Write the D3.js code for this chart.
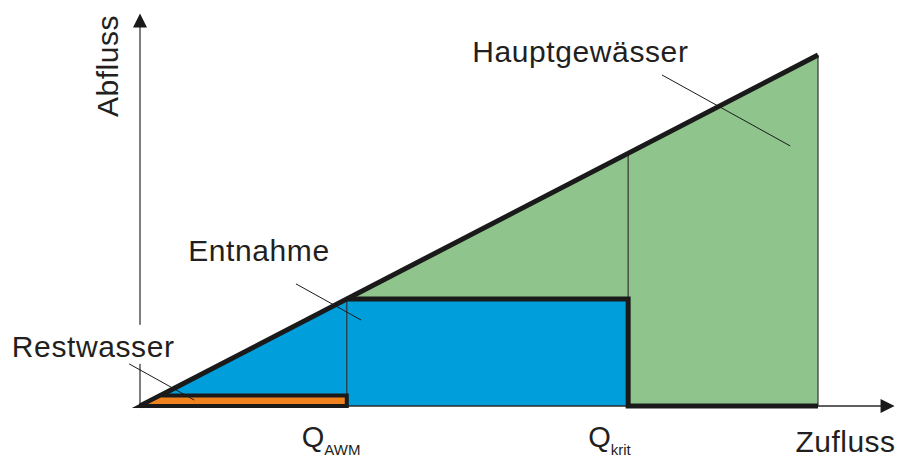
<!DOCTYPE html>
<html>
<head>
<meta charset="utf-8">
<script src="https://cdn.jsdelivr.net/npm/d3@7"></script>
<style>
  body { margin: 0; background: #fff; }
  text { font-family: "Liberation Sans", Arial, sans-serif; fill: #231f20; }
</style>
</head>
<body>
<div id="vis"></div>
<script>
// flow values (Zufluss / Abfluss, arbitrary units)
var qAWM = 30.5;
var qKrit = 72;
var qMax = 100;
var restwasser = 3;
var entnahmeMax = 30.5;
var axisMax = 111;

var qNames = ["Q", "Q"];
var qSubs = ["AWM", "krit"];
var qValues = [qAWM, qKrit];

var labelNames = ["Hauptgewässer", "Entnahme", "Restwasser"];
var labelPos = [[49.0, 98.0], [7.1, 41.3], [-18.9, 14.0]];
var leaderFrom = [[77.0, 94.3], [23.0, 34.8], [-1.6, 12.0]];
var leaderTo = [[95.9, 74.1], [32.6, 24.5], [8.0, 1.7]];

var elem_width = 897;
var elem_height = 457;
var svg = d3.select("#vis")
  .append("svg")
  .attr("width", elem_width)
  .attr("height", elem_height);

var x = d3.scaleLinear().domain([0, 100]).range([140, 818]);
var y = d3.scaleLinear().domain([0, 100]).range([406, 55]);

var line = d3.line()
  .x(function(d) { return x(d[0]); })
  .y(function(d) { return y(d[1]); });

// areas
var hauptArea = [[qAWM, qAWM], [qMax, qMax], [qMax, 0], [qKrit, 0], [qKrit, entnahmeMax], [qAWM, entnahmeMax]];
var entnahmeArea = [[0, 0], [qAWM, qAWM], [qAWM, entnahmeMax], [qKrit, entnahmeMax], [qKrit, 0]];
var restArea = [[0, 0], [restwasser, restwasser], [qAWM, restwasser], [qAWM, 0]];

svg.append("path")
  .attr("d", line(hauptArea) + "Z")
  .attr("fill", "#8fc58c");

svg.append("path")
  .attr("d", line(entnahmeArea) + "Z")
  .attr("fill", "#009edb");

// axes
svg.append("path")
  .attr("d", line([[0, 0], [0, axisMax]]))
  .attr("stroke", "#3a3a3a")
  .attr("stroke-width", 1.3)
  .attr("fill", "none");
svg.append("path")
  .attr("d", line([[0, 0], [axisMax, 0]]))
  .attr("stroke", "#2a2a2a")
  .attr("stroke-width", 1.3)
  .attr("fill", "none");

// arrow heads
var yTip = y(axisMax), xTip = x(axisMax);
svg.append("path")
  .attr("d", "M" + x(0) + "," + (yTip - 3) + "L" + (x(0) - 7) + "," + (yTip + 11) + "L" + (x(0) + 7) + "," + (yTip + 11) + "Z")
  .attr("fill", "#1a1a1a");
svg.append("path")
  .attr("d", "M" + (xTip + 2) + "," + y(0) + "L" + (xTip - 12) + "," + (y(0) - 7) + "L" + (xTip - 12) + "," + (y(0) + 7) + "Z")
  .attr("fill", "#1a1a1a");

// thin verticals
var thin = [
  [[qAWM, entnahmeMax], [qAWM, 0]],
  [[qKrit, qKrit], [qKrit, entnahmeMax]],
  [[qMax, qMax], [qMax, 0]]
];
svg.selectAll(".thin")
  .data(thin).enter()
  .append("path")
  .attr("class", "thin")
  .attr("d", function(d) { return line(d); })
  .attr("stroke", "#333")
  .attr("stroke-width", 1.2)
  .attr("fill", "none");

// thick lines
svg.append("path")
  .attr("d", line([[0, 0], [qMax, qMax]]))
  .attr("stroke", "#1a1a1a")
  .attr("stroke-width", 5)
  .attr("fill", "none");
svg.append("path")
  .attr("d", line([[qAWM, entnahmeMax], [qKrit, entnahmeMax], [qKrit, 0], [qMax, 0]]))
  .attr("stroke", "#1a1a1a")
  .attr("stroke-width", 5)
  .attr("stroke-linejoin", "miter")
  .attr("fill", "none");

// Restwasser strip
svg.append("path")
  .attr("d", line(restArea) + "Z")
  .attr("fill", "#f0821e")
  .attr("stroke", "#1a1a1a")
  .attr("stroke-width", 4)
  .attr("stroke-miterlimit", 10);

// white patch behind Restwasser label
svg.append("rect")
  .attr("x", x(labelPos[2][0]) - 2)
  .attr("y", y(labelPos[2][1]) - 32)
  .attr("width", 170)
  .attr("height", 39)
  .attr("fill", "#fff");

// leaders
svg.selectAll(".leader")
  .data(leaderFrom).enter()
  .append("path")
  .attr("class", "leader")
  .attr("d", function(d, i) { return line([d, leaderTo[i]]); })
  .attr("stroke", "#1a1a1a")
  .attr("stroke-width", 1)
  .attr("fill", "none");

svg.selectAll(".lbl")
  .data(labelNames).enter()
  .append("text")
  .attr("class", "lbl")
  .attr("x", function(d, i) { return x(labelPos[i][0]); })
  .attr("y", function(d, i) { return y(labelPos[i][1]); })
  .attr("font-size", 30)
  .attr("letter-spacing", 0.6)
  .text(function(d) { return d; });

// axis titles
svg.append("text")
  .attr("transform", "translate(118," + (y(0) - 289) + ") rotate(-90)")
  .attr("font-size", 30)
  .attr("letter-spacing", 0.5)
  .text("Abfluss");
svg.append("text")
  .attr("x", xTip + 3)
  .attr("y", 452)
  .attr("text-anchor", "end")
  .attr("font-size", 30)
  .attr("letter-spacing", 0.5)
  .text("Zufluss");

// Q markers
var qOffsets = [-45, -40];
var qt = svg.selectAll(".q")
  .data(qValues).enter()
  .append("text")
  .attr("class", "q")
  .attr("x", function(d, i) { return x(d) + qOffsets[i]; })
  .attr("y", 447)
  .attr("font-size", 29);
qt.append("tspan").text(function(d, i) { return qNames[i]; });
qt.append("tspan")
  .attr("dy", 8)
  .attr("font-size", 15)
  .text(function(d, i) { return qSubs[i]; });
</script>
</body>
</html>
